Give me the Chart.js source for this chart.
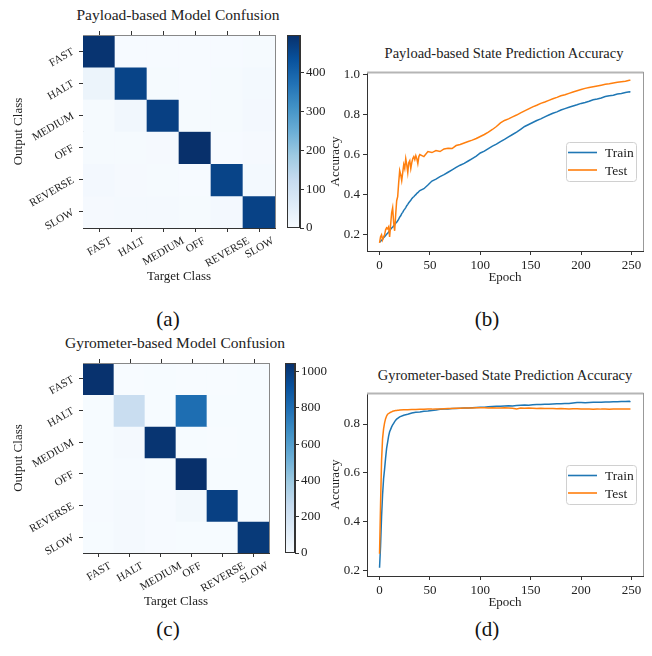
<!DOCTYPE html>
<html><head><meta charset="utf-8">
<script src="https://cdn.jsdelivr.net/npm/chart.js@4/dist/chart.umd.min.js"></script>
<style>
body{margin:0;background:#fff;width:652px;height:656px;position:relative;overflow:hidden;font-family:"Liberation Serif","Times New Roman",serif;color:#222}
canvas{position:absolute}
.t{position:absolute;white-space:nowrap;transform:translate(-50%,-50%);color:#222;line-height:1}
.p{position:absolute;white-space:nowrap;transform:translate(-50%,-50%);font-size:21px;color:#111;line-height:1}
</style></head><body>
<div class="t" style="left:178px;top:15px;font-size:15.5px">Payload-based Model Confusion</div>
<div class="t" style="left:504px;top:53px;font-size:14.5px">Payload-based State Prediction Accuracy</div>
<div class="t" style="left:175px;top:343px;font-size:15.5px">Gyrometer-based Model Confusion</div>
<div class="t" style="left:505px;top:375px;font-size:14.5px">Gyrometer-based State Prediction Accuracy</div>
<div class="p" style="left:168px;top:319px">(a)</div>
<div class="p" style="left:487px;top:319px">(b)</div>
<div class="p" style="left:168px;top:629px">(c)</div>
<div class="p" style="left:487px;top:629px">(d)</div>

<canvas id="hmA" width="280" height="300" style="left:0;top:0"></canvas>
<canvas id="cbA" width="52" height="300" style="left:278px;top:0"></canvas>
<canvas id="lnB" width="324" height="270" style="left:328px;top:30px"></canvas>
<canvas id="hmC" width="275" height="295" style="left:0;top:330px"></canvas>
<canvas id="cbC" width="52" height="295" style="left:278px;top:330px"></canvas>
<canvas id="lnD" width="324" height="275" style="left:328px;top:350px"></canvas>

<script>
// ---------------- DATA ----------------
const CLASSES = ['FAST', 'HALT', 'MEDIUM', 'OFF', 'REVERSE', 'SLOW'];

// rows = Output Class, columns = Target Class
const payloadConfusion = [
  [490, 3, 2, 2, 3, 4],
  [28, 460, 4, 3, 4, 9],
  [5, 14, 466, 4, 5, 11],
  [5, 4, 6, 497, 3, 6],
  [11, 6, 5, 3, 460, 9],
  [6, 7, 7, 4, 11, 463]
];
const gyroConfusion = [
  [1040, 2, 3, 2, 2, 3],
  [3, 245, 4, 800, 3, 4],
  [4, 15, 1030, 3, 2, 3],
  [3, 8, 4, 1048, 3, 3],
  [5, 18, 6, 25, 985, 4],
  [4, 16, 5, 3, 4, 1010]
];

const epochsPayload = [0,1,2,3,4,5,6,7,8,9,10,11,12,13,14,15,16,17,18,19,20,21,22,23,24,25,26,27,28,29,30,31,32,33,34,35,36,37,38,39,40,
  44,48,52,56,60,64,68,72,76,80,84,88,92,96,100,104,108,112,116,120,124,128,132,136,140,144,148,152,156,160,164,168,172,176,180,184,188,192,196,200,204,208,212,216,220,224,228,232,236,240,244,248,249];
const trainPayload = [0.163,0.168,0.172,0.178,0.186,0.19,0.197,0.203,0.208,0.214,0.22,0.228,0.234,0.238,0.245,0.25,0.258,0.263,0.27,0.278,0.288,0.295,0.306,0.312,0.322,0.328,0.336,0.345,0.352,0.36,0.366,0.372,0.38,0.386,0.39,0.396,0.4,0.407,0.41,0.416,0.42,
  0.43,0.448,0.468,0.478,0.49,0.5,0.512,0.524,0.536,0.547,0.556,0.568,0.58,0.592,0.608,0.617,0.63,0.642,0.652,0.665,0.676,0.688,0.7,0.712,0.726,0.74,0.75,0.76,0.77,0.778,0.788,0.797,0.806,0.813,0.822,0.829,0.836,0.842,0.848,0.855,0.86,0.866,0.873,0.877,0.882,0.889,0.893,0.896,0.902,0.904,0.909,0.913,0.911];
const testPayload = [0.16,0.19,0.2,0.175,0.19,0.2,0.225,0.235,0.23,0.24,0.19,0.25,0.31,0.335,0.26,0.22,0.3,0.37,0.39,0.46,0.52,0.5,0.47,0.51,0.55,0.53,0.58,0.55,0.51,0.56,0.57,0.53,0.56,0.58,0.59,0.575,0.595,0.58,0.555,0.59,0.6,
  0.59,0.615,0.61,0.62,0.615,0.628,0.632,0.63,0.645,0.65,0.658,0.665,0.672,0.68,0.69,0.7,0.712,0.725,0.74,0.758,0.77,0.778,0.788,0.797,0.808,0.818,0.828,0.838,0.846,0.855,0.862,0.87,0.878,0.885,0.893,0.898,0.905,0.912,0.918,0.924,0.93,0.934,0.938,0.942,0.946,0.95,0.953,0.957,0.96,0.963,0.966,0.97,0.971];

const epochsGyro = [0,1,2,3,4,5,6,7,8,9,10,11,12,13,14,15,16,17,18,19,20,
  24,28,32,36,40,44,48,52,56,60,64,68,72,76,80,84,88,92,96,100,104,108,112,116,120,124,128,132,136,140,144,148,152,156,160,164,168,172,176,180,184,188,192,196,200,204,208,212,216,220,224,228,232,236,240,244,248,249];
const trainGyro = [0.211,0.3,0.42,0.51,0.575,0.615,0.66,0.7,0.725,0.75,0.768,0.778,0.788,0.796,0.803,0.81,0.815,0.82,0.823,0.826,0.829,
  0.836,0.84,0.845,0.848,0.849,0.852,0.853,0.855,0.857,0.86,0.861,0.862,0.864,0.864,0.865,0.866,0.866,0.867,0.868,0.869,0.869,0.871,0.872,0.873,0.873,0.874,0.875,0.874,0.876,0.877,0.878,0.877,0.879,0.88,0.88,0.881,0.881,0.882,0.883,0.883,0.884,0.884,0.886,0.888,0.888,0.887,0.888,0.889,0.889,0.889,0.89,0.89,0.891,0.891,0.892,0.892,0.893,0.891];
const testGyro = [0.268,0.47,0.65,0.74,0.78,0.805,0.822,0.833,0.84,0.843,0.846,0.848,0.85,0.852,0.853,0.854,0.855,0.855,0.856,0.856,0.857,
  0.858,0.858,0.859,0.859,0.86,0.86,0.861,0.861,0.862,0.862,0.863,0.864,0.864,0.865,0.865,0.866,0.866,0.866,0.867,0.867,0.867,0.866,0.867,0.866,0.866,0.867,0.866,0.865,0.862,0.866,0.865,0.866,0.865,0.864,0.865,0.864,0.864,0.864,0.863,0.864,0.863,0.862,0.863,0.863,0.862,0.862,0.862,0.861,0.862,0.861,0.861,0.86,0.861,0.861,0.861,0.861,0.861,0.861];

const payloadTicks = [0, 100, 200, 300, 400];
const gyroTicks = [0, 200, 400, 600, 800, 1000];

// -------------- STYLE / HELPERS --------------
const FONT = '"Liberation Serif", "Times New Roman", serif';
const BLUES = [[247,251,255],[222,235,247],[198,219,239],[158,202,225],[107,174,214],[66,146,198],[33,113,181],[8,81,156],[8,48,107]];
const TRAIN_C = '#1f77b4', TEST_C = '#ff7f0e', AX = '#333';

Chart.defaults.font.family = FONT;
Chart.defaults.color = '#222';
Chart.defaults.animation = false;
Chart.defaults.responsive = false;
Chart.defaults.plugins.legend.display = false;
Chart.defaults.plugins.tooltip.enabled = false;

function blues(t) {
  t = Math.max(0, Math.min(1, t)) * 8;
  const i = Math.min(7, Math.floor(t)), f = t - i;
  const a = BLUES[i], b = BLUES[i + 1];
  return 'rgb(' + a.map((c, k) => Math.round(c + (b[k] - c) * f)).join(',') + ')';
}

const framePlugin = {
  id: 'frame',
  afterDraw(chart, args, o) {
    const { ctx, chartArea: a } = chart;
    ctx.save();
    ctx.lineWidth = o.topWidth || 1;
    ctx.strokeStyle = o.topColor || '#999';
    ctx.beginPath(); ctx.moveTo(a.left, a.top + 0.5); ctx.lineTo(a.right + 0.5, a.top + 0.5); ctx.stroke();
    ctx.lineWidth = 1;
    ctx.strokeStyle = o.rightColor || '#999';
    ctx.beginPath(); ctx.moveTo(a.right + 0.5, a.top); ctx.lineTo(a.right + 0.5, a.bottom); ctx.stroke();
    if (o.topTicks) {
      const s = chart.scales.x;
      ctx.strokeStyle = AX;
      s.ticks.forEach((t, i) => {
        const x = Math.round(s.getPixelForTick(i)) + 0.5;
        ctx.beginPath(); ctx.moveTo(x, a.top); ctx.lineTo(x, a.top - 4); ctx.stroke();
      });
    }
    ctx.restore();
  }
};

const heatXLabels = {
  id: 'heatXLabels',
  afterDraw(chart) {
    const s = chart.scales.x, ctx = chart.ctx, ang = Math.PI / 6;
    ctx.save();
    ctx.font = '11px ' + FONT;
    ctx.fillStyle = '#222';
    ctx.textAlign = 'center';
    ctx.textBaseline = 'middle';
    chart.data.labels.forEach((lab, i) => {
      const w = ctx.measureText(lab).width, h = 7.5;
      const bh = w * Math.sin(ang) + h * Math.cos(ang);
      const x = s.getPixelForTick(i), y = chart.chartArea.bottom + 8 + bh / 2;
      ctx.save(); ctx.translate(x, y); ctx.rotate(-ang); ctx.fillText(lab, 0, 1); ctx.restore();
    });
    ctx.restore();
  }
};

const outlinePlugin = {
  id: 'outline',
  afterDraw(chart) {
    const { ctx, chartArea: a } = chart;
    ctx.save(); ctx.strokeStyle = AX; ctx.lineWidth = 1;
    ctx.strokeRect(a.left + 0.5, a.top + 0.5, a.right - a.left - 1, a.bottom - a.top - 1);
    ctx.restore();
  }
};

const legendPlugin = {
  id: 'boxLegend',
  afterDraw(chart) {
    const { ctx, chartArea: a } = chart;
    const w = 70, h = 39;
    const x = Math.round(a.right - 7 - w), y = Math.round((a.top + a.bottom) / 2 - h / 2);
    ctx.save();
    ctx.fillStyle = 'rgba(255,255,255,0.85)';
    ctx.strokeStyle = '#d0d0d0';
    ctx.lineWidth = 1;
    ctx.beginPath(); ctx.roundRect(x + 0.5, y + 0.5, w, h, 3); ctx.fill(); ctx.stroke();
    ctx.font = '13.5px ' + FONT;
    ctx.textBaseline = 'middle';
    ctx.fillStyle = '#222';
    chart.data.datasets.forEach((ds, i) => {
      const ly = y + 10.5 + i * 17.5;
      ctx.strokeStyle = ds.borderColor; ctx.lineWidth = 1.6;
      ctx.beginPath(); ctx.moveTo(x + 2, ly); ctx.lineTo(x + 31, ly); ctx.stroke();
      ctx.fillText(ds.label, x + 39, ly + 1);
    });
    ctx.restore();
  }
};

function makeHeatmap(id, matrix, pad, xH) {
  const vmax = Math.max(...matrix.flat());
  return new Chart(document.getElementById(id), {
    type: 'bar',
    data: {
      labels: CLASSES,
      datasets: matrix.map((row, r) => ({
        label: CLASSES[r],
        data: row.map(() => [r - 0.5, r + 0.5]),
        backgroundColor: row.map(v => blues(v / vmax)),
        borderWidth: 0, barPercentage: 1, categoryPercentage: 1, grouped: false
      }))
    },
    options: {
      layout: { padding: { top: pad.top, right: pad.right, left: 0, bottom: 0 } },
      scales: {
        x: {
          grid: { offset: false, drawOnChartArea: false, tickLength: 4, tickColor: AX },
          border: { color: AX },
          ticks: { color: 'rgba(0,0,0,0)', font: { size: 11 } },
          title: { display: true, text: 'Target Class', font: { size: 13 }, padding: { top: 0, bottom: 16 } },
          afterFit: s => { s.height = xH; }
        },
        y: {
          type: 'linear', min: -0.5, max: 5.5, reverse: true,
          afterBuildTicks: s => { s.ticks = CLASSES.map((c, i) => ({ value: i })); },
          ticks: { callback: v => CLASSES[v], minRotation: 30, maxRotation: 30, padding: 6, font: { size: 11 } },
          grid: { drawOnChartArea: false, tickLength: 4, tickColor: AX },
          border: { color: AX },
          title: { display: true, text: 'Output Class', font: { size: 13 }, padding: { top: 11, bottom: 0 } },
          afterFit: s => { s.width = 83; }
        }
      },
      plugins: { frame: { topColor: '#888', rightColor: '#888', topTicks: true } }
    },
    plugins: [framePlugin, heatXLabels]
  });
}

function makeColorbar(id, matrix, tickVals, pad, axisW) {
  const vmax = Math.max(...matrix.flat());
  return new Chart(document.getElementById(id), {
    type: 'bar',
    data: {
      labels: [''],
      datasets: [{
        data: [[0, vmax]],
        backgroundColor: (c) => {
          const a = c.chart.chartArea;
          if (!a) return BLUES[0];
          const g = c.chart.ctx.createLinearGradient(0, a.bottom, 0, a.top);
          BLUES.forEach((col, i) => g.addColorStop(i / 8, 'rgb(' + col.join(',') + ')'));
          return g;
        },
        borderWidth: 0, barPercentage: 1, categoryPercentage: 1
      }]
    },
    options: {
      layout: { padding: pad },
      scales: {
        x: { display: false },
        y: {
          position: 'right', min: 0, max: vmax,
          afterBuildTicks: s => { s.ticks = tickVals.map(v => ({ value: v })); },
          ticks: { padding: 2, font: { size: 13 }, callback: v => String(v) },
          grid: { drawOnChartArea: false, tickLength: 4, tickColor: AX },
          border: { color: AX },
          afterFit: s => { s.width = axisW; }
        }
      }
    },
    plugins: [outlinePlugin]
  });
}

function axisRange(arrs) {
  const all = arrs.flat();
  const lo = Math.min(...all), hi = Math.max(...all), m = (hi - lo) * 0.05;
  return [lo - m, hi + m];
}

function makeLine(id, epochs, train, test, padTop, xH) {
  const [xmin, xmax] = axisRange([epochs]);
  const [ymin, ymax] = axisRange([train, test]);
  return new Chart(document.getElementById(id), {
    type: 'line',
    data: {
      datasets: [
        { label: 'Train', data: epochs.map((e, i) => ({ x: e, y: train[i] })), borderColor: TRAIN_C, borderWidth: 1.5, pointRadius: 0, tension: 0, order: 1 },
        { label: 'Test', data: epochs.map((e, i) => ({ x: e, y: test[i] })), borderColor: TEST_C, borderWidth: 1.5, pointRadius: 0, tension: 0, order: 0 }
      ]
    },
    options: {
      layout: { padding: { top: padTop, right: 9, left: 0, bottom: 0 } },
      scales: {
        x: {
          type: 'linear', min: xmin, max: xmax,
          ticks: { stepSize: 50, includeBounds: false, font: { size: 13 }, padding: 3, maxRotation: 0 },
          grid: { drawOnChartArea: false, tickLength: 4, tickColor: AX },
          border: { color: AX },
          title: { display: true, text: 'Epoch', font: { size: 13 }, padding: { top: 0, bottom: 15 } },
          afterFit: s => { s.height = xH; }
        },
        y: {
          type: 'linear', min: ymin, max: ymax,
          ticks: { stepSize: 0.2, includeBounds: false, font: { size: 13 }, padding: 3, callback: v => v.toFixed(1) },
          grid: { drawOnChartArea: false, tickLength: 4, tickColor: AX },
          border: { color: AX },
          title: { display: true, text: 'Accuracy', font: { size: 13 }, padding: { top: 0, bottom: 0 } },
          afterFit: s => { s.width = 39; }
        }
      },
      plugins: { frame: { topColor: '#b5b5b5', topWidth: 2, rightColor: '#999' } }
    },
    plugins: [framePlugin, legendPlugin]
  });
}

makeHeatmap('hmA', payloadConfusion, { top: 35, right: 5 }, 72);
makeColorbar('cbA', payloadConfusion, payloadTicks, { left: 9, top: 35, bottom: 72, right: 0 }, 30);
makeLine('lnB', epochsPayload, trainPayload, testPayload, 42, 49);
makeHeatmap('hmC', gyroConfusion, { top: 33, right: 6 }, 72);
makeColorbar('cbC', gyroConfusion, gyroTicks, { left: 7, top: 33, bottom: 72, right: 0 }, 35);
makeLine('lnD', epochsGyro, trainGyro, testGyro, 43, 49);
</script>
</body></html>
